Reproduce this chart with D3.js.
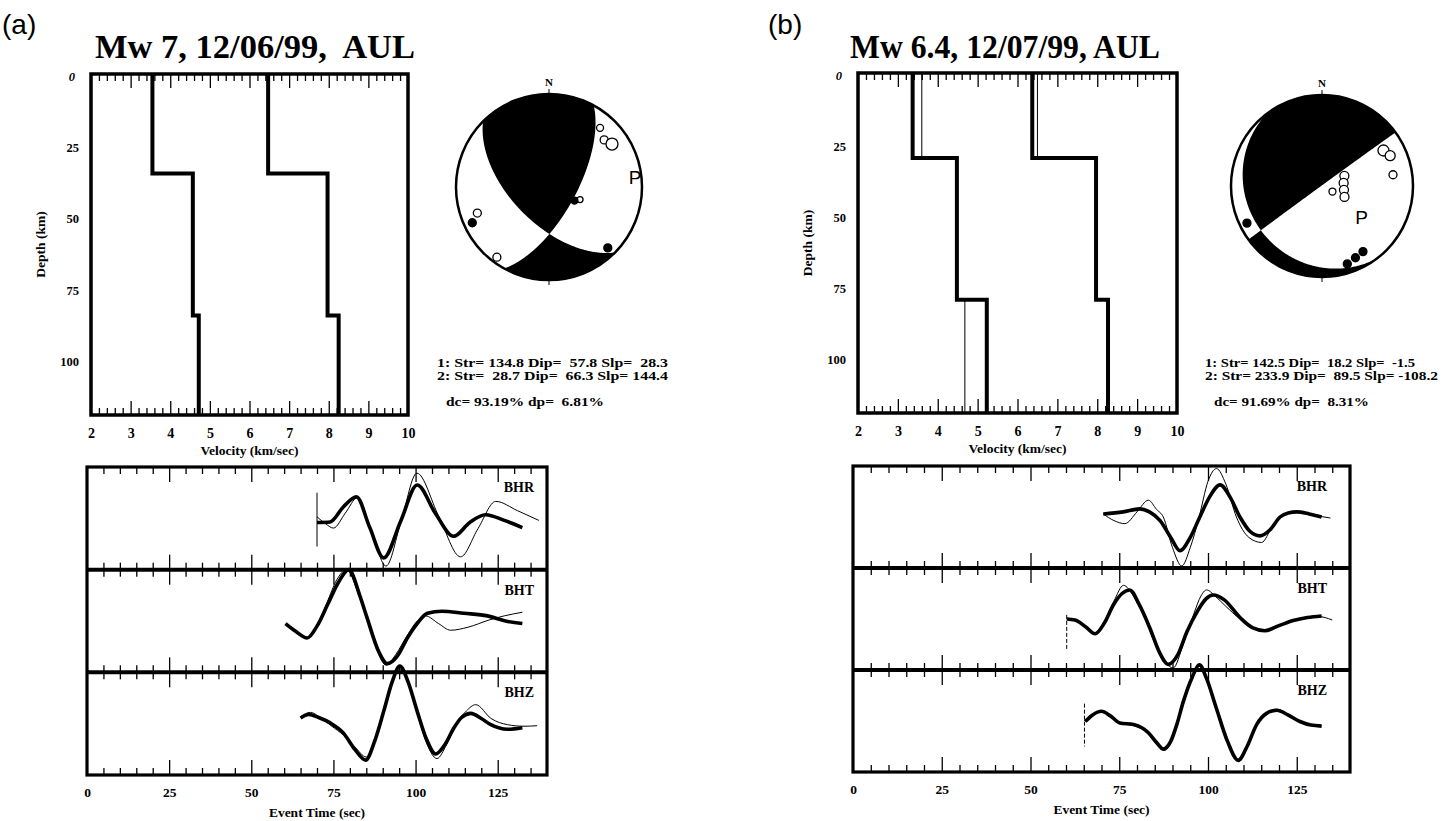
<!DOCTYPE html>
<html>
<head>
<meta charset="utf-8">
<script src="https://cdn.jsdelivr.net/npm/d3@7"></script>
<style>
  body { margin: 0; background: #fff; }
  svg { display: block; }
  text { font-family: "Liberation Serif", serif; font-weight: bold; fill: #000; white-space: pre; }
</style>
</head>
<body>
<svg width="1445" height="821"></svg>
<script>
// ---- data ----
const maxDepth = 120
const maxTime = 140
const depthTicks = [0, 25, 50, 75, 100]
const velTicks = [2, 3, 4, 5, 6, 7, 8, 9, 10]
const timeTicks = [0, 25, 50, 75, 100, 125]
const channels = ['BHR', 'BHT', 'BHZ']

// velocity models: layer tops (km), S and P velocities (km/s)
const topsA = [0, 35, 85]
const vsA = [3.55, 4.57, 4.72]
const vpA = [6.47, 7.97, 8.25]
const topsB = [0, 30, 80]
const vsB = [3.37, 4.48, 5.23]
const vpB = [6.37, 7.97, 8.27]
const vsB0 = [3.6, 4.48, 4.68]
const vpB0 = [6.5, 7.97, 8.27]

// focal mechanisms [strike, dip, slip]
const mechA = [[134.8, 57.8, 28.3], [28.7, 66.3, 144.4]]
const mechB = [[142.5, 18.2, -1.5], [233.9, 89.5, -108.2]]
const pctA = [93.19, 6.81]
const pctB = [91.69, 8.31]

// first-motion stations [azimuth, radius (0..1), compression?, size]
const stationsA = [
  [40.8, 0.84, 0, 3.5], [49.5, 0.78, 0, 4], [55.7, 0.82, 0, 6],
  [112, 0.36, 0, 3], [118, 0.31, 1, 3.5],
  [250, 0.82, 0, 4], [245, 0.91, 1, 4], [216.6, 0.94, 0, 4], [136, 0.91, 1, 4]
]
const stationsB = [
  [60, 0.78, 0, 5.5], [66, 0.82, 0, 5], [81, 0.79, 0, 4],
  [65.6, 0.27, 0, 4.5], [82, 0.24, 0, 4.5], [100, 0.245, 0, 4.5], [116, 0.275, 0, 4.5],
  [118, 0.13, 0, 3.5], [243.7, 0.92, 1, 4], [148, 0.85, 1, 4], [155, 0.87, 1, 4], [162, 0.9, 1, 4]
]

// waveforms [time (s), normalised amplitude]; obs = thick, syn = thin
const aBhrObs = [[70,-0.08],[74,-0.07],[78,0.22],[82,0.42],[86,-0.17],[90.3,-0.77],[95.5,-0.05],[100.5,0.65],[106,0.1],[111.6,-0.35],[116.5,-0.08],[121.3,0.07],[127,-0.04],[132.5,-0.18]]
const aBhrSyn = [[70,0.03],[72.5,-0.1],[75,-0.19],[78.6,0.1],[82.3,0.4],[86.6,-0.25],[91,-0.93],[95.7,-0.03],[100.4,0.88],[107,0.05],[113.7,-0.75],[119,-0.2],[124.4,0.33],[131,0.15],[137.5,-0.04]]
const aBhtObs = [[60.4,-0.05],[63.5,-0.2],[67,-0.33],[70,-0.1],[73.3,0.33],[76.5,0.75],[79.7,1.0],[83,0.5],[85.2,0.07],[88.8,-0.6],[91.4,-0.83],[94.5,-0.68],[97.5,-0.33],[100.5,-0.05],[103.6,0.15],[108,0.19],[114.7,0.15],[121.9,0.1],[127.4,0],[132.5,-0.05]]
const aBhtSyn = [[70,-0.12],[73,0.35],[76,0.8],[79,1.0],[82.5,0.55],[85.5,0],[88.5,-0.6],[91,-0.86],[94,-0.65],[97.3,-0.3],[100.5,0],[103,0.1],[107,-0.05],[110.7,-0.18],[116,-0.12],[122.4,0.02],[127,0.1],[132.5,0.17]]
const aBhzObs = [[65,0.11],[67.5,0.18],[70.5,0.12],[74,0.015],[78,-0.18],[81.5,-0.5],[84.8,-0.71],[87.5,-0.35],[90.3,0.24],[92.8,0.8],[95.2,1.12],[97.8,0.8],[100.5,0.24],[103.3,-0.3],[106.1,-0.59],[109,-0.4],[111.7,-0.08],[114,0.12],[116.8,0.2],[120,0.1],[122.9,-0.02],[128,-0.11],[132.5,-0.08]]
const aBhzSyn = [[65,0.14],[68,0.22],[71,0.12],[74.5,-0.05],[78,-0.22],[81.5,-0.45],[85,-0.65],[88,-0.25],[90.5,0.3],[93,0.85],[95.5,1.05],[98,0.75],[100.5,0.2],[103.5,-0.4],[106.5,-0.68],[109.5,-0.4],[112.5,0],[115.5,0.25],[118.3,0.37],[123,0.1],[128,-0.02],[133,-0.05],[137,-0.04]]

const bBhrObs = [[70.5,0.06],[76.1,0.1],[80.8,0.16],[83.5,0.1],[86.5,-0.07],[89.5,-0.4],[92.1,-0.66],[95,-0.4],[97.7,0],[100.5,0.4],[103.4,0.63],[106.3,0.38],[109,0],[111.8,-0.28],[114.6,-0.37],[117.5,-0.25],[120.3,0],[122.6,0.08],[125,0.1],[128.5,0.06],[132,0]]
const bBhrSyn = [[70.5,0.06],[73.5,-0.07],[76.6,-0.13],[80,0.1],[83.2,0.33],[85.5,0.15],[87.4,0],[90,-0.6],[92.6,-0.96],[95,-0.6],[97.5,0],[100,0.7],[102.4,0.95],[105,0.65],[108,0],[111.5,-0.4],[115.1,-0.5],[118,-0.2],[120.5,0.02],[125,0.1],[130,0.03],[134.5,-0.02]]
const bBhtObs = [[60.2,0],[62.5,-0.02],[65.5,-0.15],[68.2,-0.29],[70.8,-0.08],[73.3,0.27],[75.8,0.5],[78,0.57],[80.5,0.3],[83.7,-0.19],[86.3,-0.65],[88.8,-0.89],[91.5,-0.7],[94,-0.26],[97,0.15],[99.5,0.4],[101.5,0.47],[104.5,0.38],[109,0.03],[112.5,-0.17],[116,-0.23],[120,-0.13],[124,-0.03],[128,0.03],[132,0.06]]
const bBhtSyn = [[68.2,-0.29],[70.8,-0.05],[73.5,0.35],[76.2,0.66],[79,0.45],[82,0.05],[85.5,-0.55],[88,-0.85],[90.2,-0.96],[93,-0.5],[96,0.1],[98,0.45],[99.6,0.57],[102,0.45],[105,0.25],[109,0],[113,-0.18],[116,-0.22],[120,-0.12],[126,0],[131,0.05],[135,-0.02]]
const bBhzObs = [[65.4,-0.01],[67.5,0.12],[70,0.19],[72.5,0.1],[75.2,-0.04],[79,-0.07],[83.2,-0.23],[85.5,-0.42],[87.4,-0.55],[89.5,-0.4],[91.3,-0.05],[93,0.37],[95.5,0.85],[97.6,1.1],[99.5,0.85],[102.4,0.24],[105.5,-0.4],[108.5,-0.77],[111,-0.5],[113.7,-0.07],[116.5,0.15],[119.4,0.21],[122.5,0.12],[125.9,-0.01],[129,-0.08],[132,-0.1]]
const bBhzSyn = [[65.4,0],[67.5,0.13],[70,0.2],[72.5,0.09],[75.2,-0.05],[79,-0.09],[83.2,-0.25],[85.5,-0.45],[87.6,-0.58],[89.7,-0.4],[91.5,-0.02],[93.2,0.4],[95.6,0.88],[97.7,1.08],[99.6,0.82],[102.5,0.2],[105.6,-0.45],[108.7,-0.8],[111.2,-0.5],[113.8,-0.05],[116.6,0.17],[119.5,0.23],[122.6,0.13],[126,0],[129,-0.07],[132,-0.09]]

// start markers [time, upper amp, lower amp] per channel
const marksA = [[70, 0.5, -0.55], null, null]
const marksB = [null, [60.2, 0.08, -0.6], [65.2, 0.34, -0.5]]

// ---- drawing ----
const svg = d3.select('svg')
const rad = Math.PI / 180

function clean(a) { a.select('.domain').remove(); a.selectAll('line').attr('stroke-width', 1.3) }

function steps(tops, vals) {
  const pts = []
  vals.forEach((v, i) => {
    pts.push([v, tops[i]])
    pts.push([v, i + 1 < tops.length ? tops[i + 1] : maxDepth])
  })
  return pts
}

function velocityPanel(box, profiles) {
  const g = svg.append('g')
  const x = d3.scaleLinear().domain([2, 10]).range([box.left, box.right])
  const y = d3.scaleLinear().domain([0, maxDepth]).range([box.top, box.bottom])
  const minor = d3.range(2.2, 10, 0.2).filter(v => Math.abs(v - Math.round(v)) > 0.01)
  const major = d3.range(3, 10)
  ;[[minor, 7], [major, 14]].forEach(([vals, len]) => {
    g.append('g').attr('transform', `translate(0,${box.top})`)
      .call(d3.axisTop(x).tickValues(vals).tickSize(-len).tickFormat('')).call(clean)
    g.append('g').attr('transform', `translate(0,${box.bottom})`)
      .call(d3.axisBottom(x).tickValues(vals).tickSize(-len).tickFormat('')).call(clean)
  })
  const line = d3.line().x(d => x(d[0])).y(d => y(d[1]))
  profiles.forEach(p => {
    g.append('path').attr('d', line(steps(p.tops, p.vals)))
      .attr('fill', 'none').attr('stroke', '#000').attr('stroke-width', p.w)
  })
  g.append('rect').attr('x', box.left).attr('y', box.top)
    .attr('width', box.right - box.left).attr('height', box.bottom - box.top)
    .attr('fill', 'none').attr('stroke', '#000').attr('stroke-width', 3.5)

  const xa = g.append('g').attr('transform', `translate(0,${box.bottom})`)
    .call(d3.axisBottom(x).tickValues(velTicks).tickSize(0).tickPadding(13))
  xa.select('.domain').remove()
  xa.selectAll('text').style('font-size', '14px')
  const ya = g.append('g').attr('transform', `translate(${box.left},0)`)
    .call(d3.axisLeft(y).tickValues(depthTicks).tickSize(0).tickPadding(12))
  ya.select('.domain').remove()
  ya.selectAll('text').style('font-size', '12.5px')
    .attr('dy', '0.55em')
    .style('font-style', d => d === 0 ? 'italic' : null)
    .attr('x', d => d === 0 ? -16 : -12)

  g.append('text').attr('x', (box.left + box.right) / 2).attr('y', box.bottom + 40)
    .attr('text-anchor', 'middle').style('font-size', '13.5px').text('Velocity (km/sec)')
  g.append('text').attr('transform', `translate(${box.left - 46},${(box.top + box.bottom) / 2}) rotate(-90)`)
    .attr('text-anchor', 'middle').style('font-size', '13.5px').text('Depth (km)')
}

function planeVectors(m) {
  const [s, d, r] = m.map(v => v * rad)
  const n = [-Math.sin(d) * Math.sin(s), Math.sin(d) * Math.cos(s), -Math.cos(d)]
  const u = [Math.cos(r) * Math.cos(s) + Math.cos(d) * Math.sin(r) * Math.sin(s),
             Math.cos(r) * Math.sin(s) - Math.cos(d) * Math.sin(r) * Math.cos(s),
             -Math.sin(r) * Math.sin(d)]
  return [n, u]
}
const dot = (a, b) => a[0] * b[0] + a[1] * b[1] + a[2] * b[2]

function beachball(ball, mech, stations, id) {
  const g = svg.append('g')
  const { cx, cy, R } = ball
  const [nv, uv] = planeVectors(mech[0])
  const N = 260, ext = 1.05
  const vals = new Array(N * N)
  for (let j = 0; j < N; j++) {
    for (let i = 0; i < N; i++) {
      let ex = -ext + (i + 0.5) * 2 * ext / N
      let no = ext - (j + 0.5) * 2 * ext / N
      let r = Math.hypot(ex, no)
      if (r > 1) { ex /= r; no /= r; r = 1 }
      const inc = 2 * Math.asin(r / Math.SQRT2)
      const az = Math.atan2(ex, no)
      const gam = [Math.sin(inc) * Math.cos(az), Math.sin(inc) * Math.sin(az), Math.cos(inc)]
      vals[i + j * N] = dot(gam, nv) * dot(gam, uv)
    }
  }
  const cont = d3.contours().size([N, N]).thresholds([0])(vals)[0]
  const proj = d3.geoIdentity().scale(2 * ext * R / N).translate([cx - ext * R, cy - ext * R])
  g.append('clipPath').attr('id', id).append('circle').attr('cx', cx).attr('cy', cy).attr('r', R)
  g.append('path').attr('d', d3.geoPath(proj)(cont)).attr('fill', '#000').attr('clip-path', `url(#${id})`)
  g.append('circle').attr('cx', cx).attr('cy', cy).attr('r', R)
    .attr('fill', 'none').attr('stroke', '#000').attr('stroke-width', 2.5)
  // N / S ticks
  g.append('line').attr('x1', cx).attr('x2', cx).attr('y1', cy - R - 5).attr('y2', cy - R + 3).attr('stroke', '#000')
  g.append('line').attr('x1', cx).attr('x2', cx).attr('y1', cy + R - 3).attr('y2', cy + R + 5).attr('stroke', '#000')
  g.append('text').attr('x', cx).attr('y', cy - R - 8).attr('text-anchor', 'middle')
    .style('font-size', '11px').text('N')

  const pos = (az, r) => [cx + r * R * Math.sin(az * rad), cy - r * R * Math.cos(az * rad)]
  g.selectAll('circle.st').data(stations).enter().append('circle').attr('class', 'st')
    .attr('cx', d => pos(d[0], d[1])[0]).attr('cy', d => pos(d[0], d[1])[1]).attr('r', d => d[3])
    .attr('fill', d => d[2] ? '#000' : '#fff').attr('stroke', '#000').attr('stroke-width', 1.3)

  // P axis
  let P = [0, 1, 2].map(k => nv[k] - uv[k])
  const len = Math.hypot(...P)
  P = P.map(v => v / len)
  if (P[2] < 0) P = P.map(v => -v)
  const paz = Math.atan2(P[1], P[0]) / rad
  const pr = Math.SQRT2 * Math.sin((Math.PI / 2 - Math.asin(P[2])) / 2)
  const pp = pos(paz, pr)
  g.append('text').attr('x', pp[0] - 2).attr('y', pp[1] + 7).attr('text-anchor', 'middle')
    .style('font-family', '"Liberation Sans", sans-serif').style('font-weight', 'normal')
    .style('font-size', '19px').text('P')
}

function mechText(x, y, mech, pct, widths) {
  const f = v => String(v.toFixed(1)).padStart(5)
  const g = svg.append('g')
  const lines = mech.map((m, i) => `${i + 1}: Str= ${f(m[0])} Dip= ${f(m[1])} Slp= ${f(m[2])}`)
  lines.push(`dc= ${pct[0].toFixed(2).padStart(5)}% dp= ${pct[1].toFixed(2).padStart(5)}%`)
  lines.forEach((s, i) => {
    g.append('text').attr('x', i < 2 ? x : x + 9).attr('y', i < 2 ? y + i * 12.5 : y + 39)
      .style('font-size', '13px')
      .attr('textLength', widths[i]).attr('lengthAdjust', 'spacingAndGlyphs')
      .text(s)
  })
}

function wavePanel(box, obs, syn, marks, labelRight) {
  const g = svg.append('g')
  const x = d3.scaleLinear().domain([0, maxTime]).range([box.left, box.right])
  const rowH = (box.bottom - box.top) / 3
  const minor = d3.range(5, maxTime, 5).filter(t => t % 25 !== 0)
  const major = timeTicks.filter(t => t > 0)
  channels.forEach((ch, k) => {
    const top = box.top + k * rowH, bottom = top + rowH
    const y = d3.scaleLinear().domain([-1, 1]).range([bottom, top])
    ;[[minor, 7], [major, 15]].forEach(([vals, len]) => {
      g.append('g').attr('transform', `translate(0,${top})`)
        .call(d3.axisTop(x).tickValues(vals).tickSize(-len).tickFormat('')).call(clean)
      g.append('g').attr('transform', `translate(0,${bottom})`)
        .call(d3.axisBottom(x).tickValues(vals).tickSize(-len).tickFormat('')).call(clean)
    })
    const line = d3.line().x(d => x(d[0])).y(d => y(d[1])).curve(d3.curveMonotoneX)
    g.append('path').attr('d', line(syn[k])).attr('fill', 'none').attr('stroke', '#000').attr('stroke-width', 1)
    g.append('path').attr('d', line(obs[k])).attr('fill', 'none').attr('stroke', '#000').attr('stroke-width', 3.6)
    if (marks[k]) {
      g.append('line').attr('x1', x(marks[k][0])).attr('x2', x(marks[k][0]))
        .attr('y1', y(marks[k][1])).attr('y2', y(marks[k][2]))
        .attr('stroke', '#000').attr('stroke-width', 1).attr('stroke-dasharray', k ? '4,2' : null)
    }
    g.append('text').attr('x', labelRight).attr('y', top + 25).attr('text-anchor', 'end')
      .style('font-size', '14px').text(ch)
    if (k > 0) {
      g.append('line').attr('x1', box.left).attr('x2', box.right).attr('y1', top).attr('y2', top)
        .attr('stroke', '#000').attr('stroke-width', 4)
    }
  })
  g.append('rect').attr('x', box.left).attr('y', box.top)
    .attr('width', box.right - box.left).attr('height', box.bottom - box.top)
    .attr('fill', 'none').attr('stroke', '#000').attr('stroke-width', 3.2)
  const xa = g.append('g').attr('transform', `translate(0,${box.bottom})`)
    .call(d3.axisBottom(x).tickValues(timeTicks).tickSize(0).tickPadding(12))
  xa.select('.domain').remove()
  xa.selectAll('text').style('font-size', '13.5px')
  g.append('text').attr('x', (box.left + box.right) / 2).attr('y', box.bottom + 42)
    .attr('text-anchor', 'middle').style('font-size', '13.5px').text('Event Time (sec)')
}

function title(x, tag, tagX, label, width) {
  svg.append('text').attr('x', tagX).attr('y', 34)
    .style('font-family', '"Liberation Sans", sans-serif').style('font-weight', 'normal')
    .style('font-size', '28px').text(tag)
  svg.append('text').attr('x', x).attr('y', 58).style('font-size', '34px')
    .attr('textLength', width).attr('lengthAdjust', 'spacingAndGlyphs').text(label)
}

// panel (a)
title(95, '(a)', 2, 'Mw 7, 12/06/99,  AUL', 320)
velocityPanel({ left: 91, right: 408, top: 74, bottom: 415 }, [
  { tops: topsA, vals: vsA, w: 4 }, { tops: topsA, vals: vpA, w: 4 }
])
beachball({ cx: 549, cy: 187, R: 93 }, mechA, stationsA, 'clipA')
mechText(437, 367, mechA, pctA, [231, 231, 158])
wavePanel({ left: 87, right: 547, top: 467, bottom: 775 },
  [aBhrObs, aBhtObs, aBhzObs], [aBhrSyn, aBhtSyn, aBhzSyn], marksA, 534)

// panel (b)
title(850, '(b)', 768, 'Mw 6.4, 12/07/99, AUL', 310)
velocityPanel({ left: 858, right: 1177, top: 73, bottom: 413 }, [
  { tops: topsB, vals: vsB0, w: 1 }, { tops: topsB, vals: vpB0, w: 1 },
  { tops: topsB, vals: vsB, w: 4 }, { tops: topsB, vals: vpB, w: 4 }
])
beachball({ cx: 1322, cy: 186, R: 91 }, mechB, stationsB, 'clipB')
mechText(1205, 367, mechB, pctB, [210, 233, 155])
wavePanel({ left: 853, right: 1350, top: 466, bottom: 772 },
  [bBhrObs, bBhtObs, bBhzObs], [bBhrSyn, bBhtSyn, bBhzSyn], marksB, 1327)
</script>
</body>
</html>
